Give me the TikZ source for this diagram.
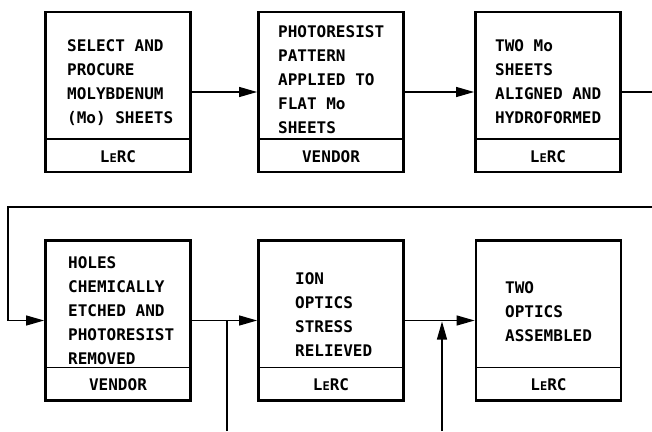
\documentclass[tikz,border=0pt]{standalone}
\usepackage{fontspec}
\setmainfont{DejaVu Sans Mono}
\usetikzlibrary{arrows.meta}

\tikzset{
  stepframe/.style={shape=rectangle,draw=black,line width=2.8pt,minimum width=145pt,minimum height=160pt,inner sep=0pt},
  steptext/.style={anchor=west,align=left,inner sep=0pt,font=\fontsize{16}{24}\selectfont\bfseries},
  whobox/.style={shape=rectangle,minimum width=145pt,minimum height=34pt,inner sep=0pt,font=\fontsize{16}{24}\selectfont\bfseries},
  flow/.style={draw=black,line width=1.2pt},
  flowarrow/.style={flow,-{Triangle[length=18pt,width=10pt]}}
}
\newcommand{\lerc}{L{\fontsize{12}{12}\selectfont E}RC}

\begin{document}
\begin{tikzpicture}[x=1pt,y=-1pt]
\useasboundingbox (0,0) rectangle (652,431);

% top row
\node[stepframe] (1) at (118,92) {};
\node[stepframe] (2) at (331,92) {};
\node[stepframe] (3) at (548,92) {};
% bottom row
\node[stepframe] (4) at (118,320.5) {};
\node[stepframe] (5) at (331,320.5) {};
\node[stepframe] (6) at (548.5,320.5) {};

\node[steptext] (1t) at (67,82.5) {SELECT AND\\PROCURE\\MOLYBDENUM\\(Mo) SHEETS};
\node[steptext] (2t) at (278,79.5) {PHOTORESIST\\PATTERN\\APPLIED TO\\FLAT Mo\\SHEETS};
\node[steptext] (3t) at (495,82) {TWO Mo\\SHEETS\\ALIGNED AND\\HYDROFORMED};
\node[steptext] (4t) at (68,311) {HOLES\\CHEMICALLY\\ETCHED AND\\PHOTORESIST\\REMOVED};
\node[steptext] (5t) at (295,314.5) {ION\\OPTICS\\STRESS\\RELIEVED};
\node[steptext] (6t) at (505,312) {TWO\\OPTICS\\ASSEMBLED};

\node[whobox,anchor=south] (1w) at (1.south) {\lerc};
\node[whobox,anchor=south] (2w) at (2.south) {VENDOR};
\node[whobox,anchor=south] (3w) at (3.south) {\lerc};
\node[whobox,anchor=south] (4w) at (4.south) {VENDOR};
\node[whobox,anchor=south] (5w) at (5.south) {\lerc};
\node[whobox,anchor=south] (6w) at (6.south) {\lerc};

\foreach \b in {1,...,6}
  \draw[line width=1.4pt] (\b w.north west) -- (\b w.north east);

\coordinate (r1) at (652,92);
\coordinate (r2) at (652,207);
\coordinate (r3) at (8,207);
\coordinate (j1) at (227,320.5);
\coordinate (j1b) at (227,431);
\coordinate (j2) at (442,321.5);
\coordinate (j2b) at (442,431);

\path [flowarrow] (1.east) -- (2.west);
\path [flowarrow] (2.east) -- (3.west);
\path [flow] (3.east) -- (r1);
\path [flowarrow] (r2) -- (r3) |- (4.west);
\path [flowarrow] (4.east) -- (5.west);
\path [flow] (j1b) -- (j1);
\path [flowarrow] (5.east) -- (6.west);
\path [flowarrow] (j2b) -- (j2);
\end{tikzpicture}
\end{document}
